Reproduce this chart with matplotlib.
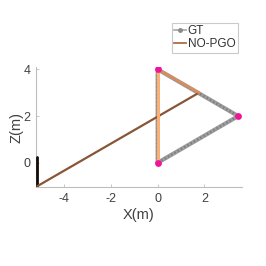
import matplotlib
matplotlib.use("Agg")
import matplotlib.pyplot as plt
import numpy as np
from matplotlib.collections import LineCollection
from matplotlib.lines import Line2D

plt.rcParams['font.family'] = ['Liberation Sans', 'DejaVu Sans']
plt.rcParams['axes.unicode_minus'] = False

# Ground-truth triangle vertices (m)
gt_x = [0.0, 0.0, 3.45, 0.0]
gt_z = [0.0, 4.0, 2.0, 0.0]

# Key poses (magenta markers)
key_x = [0.0, 0.0, 3.45]
key_z = [0.0, 4.0, 2.0]

# NO-PGO trajectory vertices and time fraction (for copper colormap)
nopgo_x = [-5.15, -5.15, 1.77, 0.0, 0.0]
nopgo_z = [0.25, -1.0, 3.0, 4.0, 0.0]
nopgo_t = [0.02, 0.06, 0.43, 0.7, 0.88]   # colour value per segment

fig = plt.figure(figsize=(2.66, 2.66), dpi=100)
ax = fig.add_axes([0.135, 0.296, 0.775, 0.452])

# GT: gray line with dense dots
ax.plot(gt_x, gt_z, color='#9e9e9e', lw=3.0, solid_capstyle='round', zorder=2)
ax.plot(gt_x, gt_z, color='#7f7f7f', lw=1.8, ls=(0, (0.6, 0.9)), zorder=2)

# NO-PGO coloured by time with copper colormap
pts = np.column_stack([nopgo_x, nopgo_z])
segs = [pts[i:i + 2] for i in range(len(pts) - 1)]
cmap = plt.get_cmap('copper')
colors = [cmap(nopgo_t[i + 1]) for i in range(len(segs))]
lws = [2.0, 1.6, 1.9, 2.1]
lc = LineCollection(segs, colors=colors, linewidths=lws, zorder=3, capstyle='round')
ax.add_collection(lc)

ax.scatter(key_x, key_z, s=24, color='#f0149a', zorder=4, linewidths=0)

ax.set_xlim(-5.2, 3.6)
ax.set_ylim(-1.05, 4.1)
ax.set_aspect('equal', adjustable='box')
ax.set_xticks([-4, -2, 0, 2])
ax.set_yticks([0, 2, 4])

for s in ['top', 'right']:
    ax.spines[s].set_visible(False)
for s in ['left', 'bottom']:
    ax.spines[s].set_color('#bdbdbd')
    ax.spines[s].set_linewidth(0.8)
ax.tick_params(direction='in', length=2.5, width=0.6, color='#bdbdbd',
               labelsize=9, labelcolor='#404040', pad=4)
ax.set_xlabel('X(m)', fontsize=10.5, color='#404040', labelpad=2)
ax.set_ylabel('Z(m)', fontsize=10.5, color='#404040', labelpad=0)

handles = [Line2D([0], [0], color='#a6a6a6', lw=1.2, marker='.', markersize=5,
                  markerfacecolor='#8a8a8a', markeredgecolor='#8a8a8a'),
           Line2D([0], [0], color=cmap(0.55), lw=1.3)]
leg = fig.legend(handles, ['GT', 'NO-PGO'], loc='upper right',
                 bbox_to_anchor=(0.893, 0.915), fontsize=8.5, frameon=True,
                 fancybox=False, handlelength=1.05, handletextpad=0.1,
                 borderpad=0.2, labelspacing=0.1, borderaxespad=0)
leg.get_frame().set_edgecolor('#bdbdbd')
leg.get_frame().set_linewidth(0.8)
for t in leg.get_texts():
    t.set_color('#333333')

fig.savefig('out.png', dpi=100)
